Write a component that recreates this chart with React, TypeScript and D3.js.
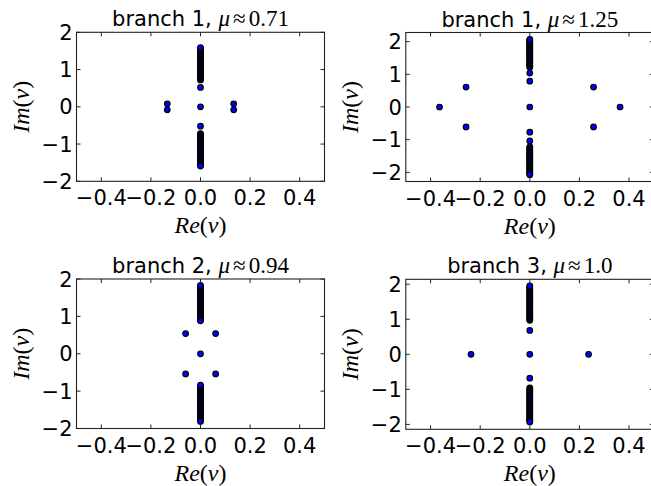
import React from "react";
import * as d3 from "d3";

// ---------- data ----------
const xTicks = [-0.4, -0.2, 0.0, 0.2, 0.4];
const yTicks = [-2, -1, 0, 1, 2];

// branch 1, mu ~ 0.71
const p1Upper = [0.72, 0.75, 0.78, 0.81, 0.84, 0.87, 0.9, 0.93, 0.96, 0.99, 1.02, 1.05, 1.08, 1.11, 1.14, 1.17, 1.2, 1.23, 1.26, 1.29, 1.32, 1.35, 1.38, 1.41, 1.44, 1.47, 1.5, 1.53, 1.56, 1.59];
const p1Lower = [-0.72, -0.75, -0.78, -0.81, -0.84, -0.87, -0.9, -0.93, -0.96, -0.99, -1.02, -1.05, -1.08, -1.11, -1.14, -1.17, -1.2, -1.23, -1.26, -1.29, -1.32, -1.35, -1.38, -1.41, -1.44, -1.47, -1.5, -1.53, -1.56, -1.59];
const p1Isolated = [0.52, 0, -0.52];
const p1OffRe = [-0.134, -0.134, 0.134, 0.134];
const p1OffIm = [0.08, -0.08, 0.08, -0.08];

// branch 1, mu ~ 1.25
const p2Upper = [1.22, 1.25, 1.28, 1.31, 1.34, 1.37, 1.4, 1.43, 1.46, 1.49, 1.52, 1.55, 1.58, 1.61, 1.64, 1.67, 1.7, 1.73, 1.76, 1.79, 1.82, 1.85, 1.88, 1.91, 1.94, 1.97, 2.0, 2.03, 2.05, 2.07];
const p2Lower = [-1.22, -1.25, -1.28, -1.31, -1.34, -1.37, -1.4, -1.43, -1.46, -1.49, -1.52, -1.55, -1.58, -1.61, -1.64, -1.67, -1.7, -1.73, -1.76, -1.79, -1.82, -1.85, -1.88, -1.91, -1.94, -1.97, -2.0, -2.03, -2.05, -2.07];
const p2Isolated = [1.04, 0.79, 0, -0.77, -1.04];
const p2OffRe = [-0.364, -0.257, -0.257, 0.257, 0.257, 0.364];
const p2OffIm = [0, 0.61, -0.61, 0.61, -0.61, 0];

// branch 2, mu ~ 0.94
const p3Upper = [0.91, 0.94, 0.97, 1.0, 1.03, 1.06, 1.09, 1.12, 1.15, 1.18, 1.21, 1.24, 1.27, 1.3, 1.33, 1.36, 1.39, 1.42, 1.45, 1.48, 1.51, 1.54, 1.57, 1.6, 1.63, 1.66, 1.69, 1.72, 1.75, 1.78, 1.8, 1.83, 0.88];
const p3Lower = [-0.87, -0.9, -0.93, -0.96, -0.99, -1.02, -1.05, -1.08, -1.11, -1.14, -1.17, -1.2, -1.23, -1.26, -1.29, -1.32, -1.35, -1.38, -1.41, -1.44, -1.47, -1.5, -1.53, -1.56, -1.59, -1.62, -1.65, -1.68, -1.71, -1.74, -1.76, -1.78, -1.81, -0.84];
const p3Isolated = [0];
const p3OffRe = [-0.06, -0.06, 0.061, 0.061];
const p3OffIm = [0.54, -0.54, 0.54, -0.54];

// branch 3, mu ~ 1.0
const p4Upper = [0.97, 1.0, 1.03, 1.06, 1.09, 1.12, 1.15, 1.18, 1.21, 1.24, 1.27, 1.3, 1.33, 1.36, 1.39, 1.42, 1.45, 1.48, 1.51, 1.54, 1.57, 1.6, 1.63, 1.66, 1.69, 1.72, 1.75, 1.78, 1.81, 1.84, 1.87, 1.9, 1.93, 1.95];
const p4Lower = [-0.96, -0.99, -1.02, -1.05, -1.08, -1.11, -1.14, -1.17, -1.2, -1.23, -1.26, -1.29, -1.32, -1.35, -1.38, -1.41, -1.44, -1.47, -1.5, -1.53, -1.56, -1.59, -1.62, -1.65, -1.68, -1.71, -1.74, -1.77, -1.8, -1.83, -1.86, -1.89, -1.91, -1.93];
const p4Isolated = [0.68, 0, -0.68];
const p4OffRe = [-0.237, 0.237];
const p4OffIm = [0, 0];

const titleBranch = ["branch 1,", "branch 1,", "branch 2,", "branch 3,"];
const titleMu = ["0.71", "1.25", "0.94", "1.0"];
const yLimits = [2.0, 2.28, 2.0, 2.14];

// ---------- drawing ----------
const W = 651;
const H = 486;
const SANS = "'DejaVu Sans', sans-serif";
const SERIF = "'Liberation Serif', 'DejaVu Serif', serif";

type PanelDef = {
  left: number; right: number; top: number; bottom: number;
  ylim: number; branch: string; mu: string;
  axis: number[]; offRe: number[]; offIm: number[];
};

function Panel({ p }: { p: PanelDef }) {
  const x = d3.scaleLinear().domain([-0.5, 0.5]).range([p.left, p.right]);
  const y = d3.scaleLinear().domain([-p.ylim, p.ylim]).range([p.bottom, p.top]);
  const fx = d3.format(".1f");
  const fy = d3.format("d");
  const cx = (p.left + p.right) / 2;
  const cy = (p.top + p.bottom) / 2;
  const tl = 4;
  const pts: [number, number][] = [
    ...p.axis.map((v) => [0, v] as [number, number]),
    ...p.offRe.map((r, i) => [r, p.offIm[i]] as [number, number]),
  ];
  return (
    <g>
      {pts.map((d, i) => (
        <circle key={i} cx={x(d[0])} cy={y(d[1])} r={2.8} fill="#0000ff" stroke="#000" strokeWidth={1.15} />
      ))}
      <rect x={p.left} y={p.top} width={p.right - p.left} height={p.bottom - p.top} fill="none" stroke="#222" strokeWidth={1.1} />
      {xTicks.map((t) => (
        <g key={"x" + t}>
          <line x1={x(t)} x2={x(t)} y1={p.bottom} y2={p.bottom - tl} stroke="#222" strokeWidth={1} />
          <line x1={x(t)} x2={x(t)} y1={p.top} y2={p.top + tl} stroke="#222" strokeWidth={1} />
          <text x={x(t)} y={p.bottom + 24} textAnchor="middle" fontFamily={SANS} fontSize={21} fill="#000">{fx(t)}</text>
        </g>
      ))}
      {yTicks.map((t) => (
        <g key={"y" + t}>
          <line x1={p.left} x2={p.left + tl} y1={y(t)} y2={y(t)} stroke="#222" strokeWidth={1} />
          <line x1={p.right} x2={p.right - tl} y1={y(t)} y2={y(t)} stroke="#222" strokeWidth={1} />
          <text x={p.left - 4} y={y(t)} dy="0.36em" textAnchor="end" fontFamily={SANS} fontSize={21} fill="#000">{fy(t)}</text>
        </g>
      ))}
      <text x={cx} y={p.top - 6} textAnchor="middle" fontSize={21} fill="#000">
        <tspan fontFamily={SANS}>{p.branch} </tspan>
        <tspan fontFamily={SERIF} fontStyle="italic" fontSize={23}>μ</tspan>
        <tspan fontFamily={SERIF} fontSize={23} dx={3}>≈</tspan>
        <tspan fontFamily={SERIF} fontSize={23} dx={3}>{p.mu}</tspan>
      </text>
      <text x={cx} y={p.bottom + 52} textAnchor="middle" fontSize={24} fontFamily={SERIF} fill="#000">
        <tspan fontStyle="italic">Re</tspan>
        <tspan>(</tspan>
        <tspan fontStyle="italic">ν</tspan>
        <tspan>)</tspan>
      </text>
      <text transform={`translate(${p.left - 48},${cy}) rotate(-90)`} textAnchor="middle" fontSize={24} fontFamily={SERIF} fill="#000">
        <tspan fontStyle="italic">Im</tspan>
        <tspan>(</tspan>
        <tspan fontStyle="italic">ν</tspan>
        <tspan>)</tspan>
      </text>
    </g>
  );
}

export default function App() {
  const boxes = [
    { left: 76.5, right: 324.5, top: 32.3, bottom: 181.3 },
    { left: 405.8, right: 653.8, top: 32.5, bottom: 181.5 },
    { left: 76.5, right: 324.5, top: 279, bottom: 428.5 },
    { left: 405.8, right: 653.8, top: 279.3, bottom: 429.3 },
  ];
  const axes = [
    [...p1Upper, ...p1Lower, ...p1Isolated],
    [...p2Upper, ...p2Lower, ...p2Isolated],
    [...p3Upper, ...p3Lower, ...p3Isolated],
    [...p4Upper, ...p4Lower, ...p4Isolated],
  ];
  const offRe = [p1OffRe, p2OffRe, p3OffRe, p4OffRe];
  const offIm = [p1OffIm, p2OffIm, p3OffIm, p4OffIm];
  const panels: PanelDef[] = boxes.map((b, i) => ({
    ...b,
    ylim: yLimits[i],
    branch: titleBranch[i],
    mu: titleMu[i],
    axis: axes[i],
    offRe: offRe[i],
    offIm: offIm[i],
  }));
  return (
    <svg width={W} height={H} style={{ position: "absolute", left: 0, top: 0, background: "#fff" }}>
      <rect x={0} y={0} width={W} height={H} fill="#fff" />
      {panels.map((p, i) => (
        <Panel key={i} p={p} />
      ))}
    </svg>
  );
}
